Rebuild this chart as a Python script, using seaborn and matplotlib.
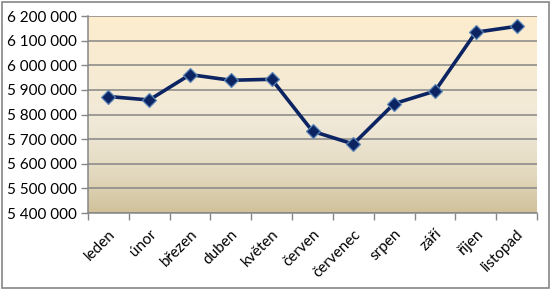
import numpy as np
import pandas as pd
import matplotlib
matplotlib.use("Agg")
import matplotlib.pyplot as plt
import seaborn as sns
from matplotlib.colors import LinearSegmentedColormap
from matplotlib.patches import Rectangle
from matplotlib.ticker import FuncFormatter, MultipleLocator

months = ["leden", "únor", "březen", "duben", "květen", "červen",
          "červenec", "srpen", "září", "říjen", "listopad"]
values = [5873000, 5859000, 5962000, 5939000, 5943000, 5732000,
          5680000, 5844000, 5895000, 6134000, 6158000]

sns.set_theme(style="white")
plt.rcParams["font.family"] = ["Lato", "DejaVu Sans"]

W, H = 553, 289
fig = plt.figure(figsize=(W / 100, H / 100), dpi=100)
ax = fig.add_axes([88 / W, 1 - 213 / H, (537 - 88) / W, (213 - 16) / H])

# gradient background
cmap = LinearSegmentedColormap.from_list(
    "bg", [(0.0, "#D0C19A"), (0.2, "#E3D9BF"), (0.45, "#F0E9D8"), (1.0, "#FEEDCE")])
grad = np.linspace(0, 1, 256).reshape(-1, 1)
ax.imshow(grad, aspect="auto", cmap=cmap, origin="lower",
          extent=[0, 1, 0, 1], transform=ax.transAxes, zorder=0)

df = pd.DataFrame({"month": months, "value": values})
df["pos"] = np.arange(len(months))
sns.lineplot(data=df, x="pos", y="value", ax=ax, color="#0C2461", linewidth=2.6,
             marker="D", markersize=7, markerfacecolor="#0C2461",
             markeredgecolor="#5B86B8", markeredgewidth=0.9, zorder=3)

ax.set_xlim(-0.5, len(months) - 0.5)
ax.set_ylim(5400000, 6200000)
ax.yaxis.set_major_locator(MultipleLocator(100000))
ax.yaxis.set_major_formatter(FuncFormatter(lambda v, p: f"{int(v):,}".replace(",", " ")))
ax.grid(axis="y", color="#868686", linewidth=1.1, zorder=1)
ax.set_axisbelow(True)

ax.set_xticks(df["pos"])
ax.set_xticklabels(months, rotation=45, ha="right", rotation_mode="anchor")
ax.set_xticks(np.arange(-0.5, len(months)), minor=True)
ax.tick_params(axis="x", which="major", length=0, pad=10, labelsize=11, colors="black")
ax.tick_params(axis="x", which="minor", length=5, width=1, color="#868686", direction="out", bottom=True)
ax.tick_params(axis="y", which="major", length=5, width=1, color="#868686", direction="out",
               left=True, labelsize=11, labelcolor="black", pad=3)
ax.set_xlabel("")
ax.set_ylabel("")

for s in ["top", "right"]:
    ax.spines[s].set_visible(False)
for s in ["left", "bottom"]:
    ax.spines[s].set_color("#868686")
    ax.spines[s].set_linewidth(1.1)
    ax.spines[s].set_zorder(2)

fig.patches.append(Rectangle((1.5 / W, 1.5 / H), (W - 6) / W, (H - 3) / H,
                             transform=fig.transFigure, fill=False,
                             edgecolor="#868686", linewidth=1.2))

fig.savefig("out.png", dpi=100)
